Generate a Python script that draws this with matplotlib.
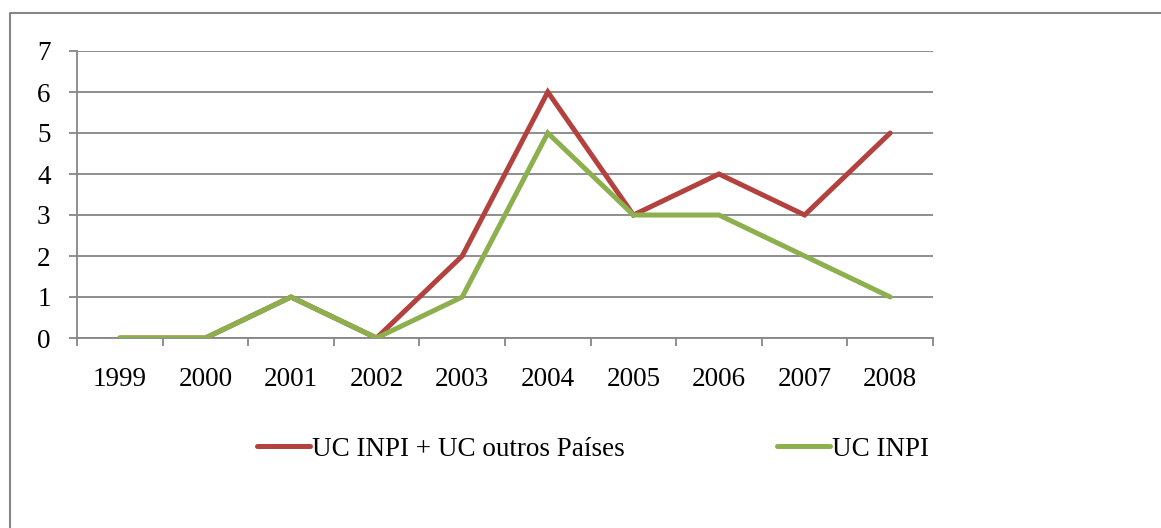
import matplotlib.pyplot as plt
from matplotlib.lines import Line2D

years = ['1999', '2000', '2001', '2002', '2003', '2004', '2005', '2006', '2007', '2008']
uc_total = [0, 0, 1, 0, 2, 6, 3, 4, 3, 5]
uc_inpi = [0, 0, 1, 0, 1, 5, 3, 3, 2, 1]

W, H = 1161, 528
plt.rcParams['font.family'] = ['Liberation Serif', 'DejaVu Serif']
grey = '#868686'
fs = 19.5

fig = plt.figure(figsize=(W / 100, H / 100), dpi=100)
ax = fig.add_axes([77 / W, 1 - 338 / H, (933 - 77) / W, (338 - 51) / H])

x = list(range(len(years)))
ax.plot(x, uc_total, color='#B3423F', lw=3.6, solid_capstyle='round',
        solid_joinstyle='miter', label='UC INPI + UC outros Países', zorder=3)
ax.plot(x, uc_inpi, color='#8DB04E', lw=3.6, solid_capstyle='round',
        solid_joinstyle='miter', label='UC INPI', zorder=4)

ax.set_xlim(-0.5, len(years) - 0.5)
ax.set_ylim(0, 7)
ax.set_yticks(range(8))
ax.set_xticks([i - 0.5 for i in range(len(years) + 1)])
ax.set_xticklabels([])
ax.set_xticks(x, minor=True)
ax.set_xticklabels(years, minor=True)
ax.tick_params(axis='x', which='minor', length=0, pad=21, labelsize=fs)
ax.tick_params(axis='x', which='major', length=6, color=grey, width=1.3)
ax.tick_params(axis='y', length=6, color=grey, width=1.3, labelsize=fs, pad=13)
ax.yaxis.grid(True, color=grey, lw=1.3)
ax.set_axisbelow(True)
for s in ['top', 'right']:
    ax.spines[s].set_visible(False)
for s in ['left', 'bottom']:
    ax.spines[s].set_color(grey)
    ax.spines[s].set_linewidth(1.3)

fig.legend(loc='center left', bbox_to_anchor=(257 / W, 1 - 449 / H), ncol=2,
           frameon=False, fontsize=fs, handlelength=1.95, handletextpad=0.07,
           columnspacing=5.65, borderaxespad=0, borderpad=0)

# chart area border (top and left only visible)
fig.add_artist(Line2D([10 / W, 10 / W, 1], [0, 1 - 13 / H, 1 - 13 / H],
                      transform=fig.transFigure, color=grey, lw=1.5))

fig.savefig('out.png', dpi=100)
